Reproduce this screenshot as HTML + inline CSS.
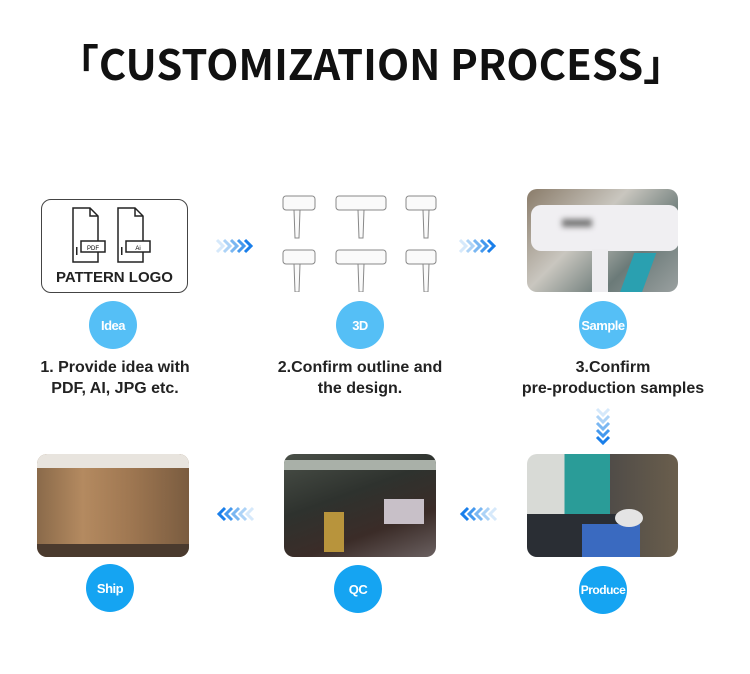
<!DOCTYPE html>
<html><head><meta charset="utf-8"><style>
*{margin:0;padding:0;box-sizing:border-box}
body{width:750px;height:674px;background:#fff;position:relative;overflow:hidden;font-family:"Liberation Sans",sans-serif}
.a{position:absolute}
.circ{width:48px;height:48px;border-radius:50%;color:#fff;font-weight:bold;font-size:13px;display:flex;align-items:center;justify-content:center;letter-spacing:-0.5px}
.lt{background:#55bff6}
.dk{background:#15a4f2}
.cap{font-size:16px;font-weight:bold;color:#222;text-align:center;line-height:21px}
.ph{border-radius:10px;overflow:hidden}
</style></head><body>
<svg class="a" style="left:0;top:0" width="750" height="110">
<text x="57" y="80" textLength="628" lengthAdjust="spacingAndGlyphs" font-family="Noto Sans CJK SC, Liberation Sans, sans-serif" font-weight="bold" font-size="42" fill="#111">「CUSTOMIZATION PROCESS」</text>
</svg>

<div class="a" style="left:41px;top:199px;width:147px;height:94px;border:1.5px solid #444;border-radius:10px"></div>
<svg class="a" style="left:70px;top:205px" width="95" height="60">
<g fill="none" stroke="#222" stroke-width="1.5">
<path d="M3 3h17l8 8v46H3z"/><path d="M20 3v8h8"/><rect x="11" y="36" width="24" height="11" fill="#fff"/>
<path d="M48 3h17l8 8v46H48z"/><path d="M65 3v8h8"/><rect x="56" y="36" width="24" height="11" fill="#fff"/>
</g>
<text x="23" y="45" font-size="6" text-anchor="middle" font-family="Liberation Sans">PDF</text>
<text x="68" y="45" font-size="6" text-anchor="middle" font-family="Liberation Sans">Ai</text>
<rect x="6" y="42" width="1.5" height="8" fill="#222"/><rect x="51" y="42" width="1.5" height="8" fill="#222"/>
</svg>
<div class="a" style="left:41px;top:269px;width:147px;text-align:center;font-size:15px;font-weight:bold;color:#222">PATTERN LOGO</div>

<svg class="a" style="left:278px;top:192px" width="160" height="100">
<g fill="#fafafa" stroke="#888" stroke-width="1">
<rect x="5" y="4" width="32" height="14" rx="3"/><path d="M16 18h6l-1 28h-4z"/>
<rect x="58" y="4" width="50" height="14" rx="3"/><path d="M80 18h6l-1 28h-4z"/>
<rect x="128" y="4" width="30" height="14" rx="3"/><path d="M145 18h6l-1 28h-4z"/>
<rect x="5" y="58" width="32" height="14" rx="3"/><path d="M16 72h6l-1 28h-4z"/>
<rect x="58" y="58" width="50" height="14" rx="3"/><path d="M80 72h6l-1 28h-4z"/>
<rect x="128" y="58" width="30" height="14" rx="3"/><path d="M145 72h6l-1 28h-4z"/>
</g></svg>

<div class="a ph" style="left:527px;top:189px;width:151px;height:103px;background:linear-gradient(135deg,#8a7c6a,#c9c6bf 40%,#6b7a78 70%,#9aa0a0)">
<div class="a" style="left:4px;top:16px;width:148px;height:46px;background:#f0eff2;border-radius:10px"></div>
<div class="a" style="left:65px;top:60px;width:16px;height:44px;background:#eeedf0"></div>
<div class="a" style="left:35px;top:30px;width:30px;height:8px;background:#777;filter:blur(3px)"></div>
<div class="a" style="left:100px;top:64px;width:22px;height:40px;background:#2aa0b0;transform:skewX(-20deg)"></div>
</div>

<svg class="a" style="left:215px;top:238px" width="40" height="16">
<g fill="none" stroke-width="3">
<path d="M2 2l6 6-6 6" stroke="#d6e9fb"/><path d="M9 2l6 6-6 6" stroke="#add3f7"/><path d="M16 2l6 6-6 6" stroke="#7ab7f2"/><path d="M23 2l6 6-6 6" stroke="#4599ee"/><path d="M30 2l6 6-6 6" stroke="#1a7fea"/>
</g></svg>
<svg class="a" style="left:458px;top:238px" width="40" height="16">
<g fill="none" stroke-width="3">
<path d="M2 2l6 6-6 6" stroke="#d6e9fb"/><path d="M9 2l6 6-6 6" stroke="#add3f7"/><path d="M16 2l6 6-6 6" stroke="#7ab7f2"/><path d="M23 2l6 6-6 6" stroke="#4599ee"/><path d="M30 2l6 6-6 6" stroke="#1a7fea"/>
</g></svg>
<svg class="a" style="left:215px;top:506px" width="40" height="16">
<g fill="none" stroke-width="3">
<path d="M38 2l-6 6 6 6" stroke="#d6e9fb"/><path d="M31 2l-6 6 6 6" stroke="#add3f7"/><path d="M24 2l-6 6 6 6" stroke="#7ab7f2"/><path d="M17 2l-6 6 6 6" stroke="#4599ee"/><path d="M10 2l-6 6 6 6" stroke="#1a7fea"/>
</g></svg>
<svg class="a" style="left:458px;top:506px" width="40" height="16">
<g fill="none" stroke-width="3">
<path d="M38 2l-6 6 6 6" stroke="#d6e9fb"/><path d="M31 2l-6 6 6 6" stroke="#add3f7"/><path d="M24 2l-6 6 6 6" stroke="#7ab7f2"/><path d="M17 2l-6 6 6 6" stroke="#4599ee"/><path d="M10 2l-6 6 6 6" stroke="#1a7fea"/>
</g></svg>
<svg class="a" style="left:595px;top:407px" width="16" height="40">
<g fill="none" stroke-width="3">
<path d="M2 2l6 6 6-6" stroke="#d6e9fb"/><path d="M2 9l6 6 6-6" stroke="#add3f7"/><path d="M2 16l6 6 6-6" stroke="#7ab7f2"/><path d="M2 23l6 6 6-6" stroke="#4599ee"/><path d="M2 30l6 6 6-6" stroke="#1a7fea"/>
</g></svg>

<div class="a circ lt" style="left:89px;top:301px">Idea</div>
<div class="a circ lt" style="left:336px;top:301px">3D</div>
<div class="a circ lt" style="left:579px;top:301px">Sample</div>

<div class="a cap" style="left:15px;width:200px;top:357px">1. Provide idea with<br>PDF, AI, JPG etc.</div>
<div class="a cap" style="left:260px;width:200px;top:357px">2.Confirm outline and<br>the design.</div>
<div class="a cap" style="left:498px;width:230px;top:357px">3.Confirm<br>pre-production samples</div>

<div class="a ph" style="left:37px;top:454px;width:152px;height:103px;background:linear-gradient(90deg,#8a6a4a,#b48a60 30%,#a07852 60%,#7a5c40);">
<div class="a" style="left:0;top:0;width:152px;height:14px;background:#e8e4de"></div>
<div class="a" style="left:0;top:90px;width:152px;height:13px;background:#4a3a2e"></div>
</div>
<div class="a ph" style="left:284px;top:454px;width:152px;height:103px;background:linear-gradient(160deg,#4a5048,#2e322e 40%,#3b2c28 70%,#6a6060)">
<div class="a" style="left:0;top:6px;width:152px;height:10px;background:#a9b0a8"></div>
<div class="a" style="left:100px;top:45px;width:40px;height:25px;background:#c8c0c8"></div>
<div class="a" style="left:40px;top:58px;width:20px;height:40px;background:#b8943c"></div>
</div>
<div class="a ph" style="left:527px;top:454px;width:151px;height:103px;background:linear-gradient(90deg,#d8dad6 0 25%,#2a9c98 25% 55%,#504c48 55%,#6a5e4c)">
<div class="a" style="left:0;top:60px;width:100px;height:43px;background:#2a2e34"></div>
<div class="a" style="left:55px;top:70px;width:58px;height:33px;background:#3a6ac0"></div>
<div class="a" style="left:88px;top:55px;width:28px;height:18px;background:#e4e4e4;border-radius:50%"></div>
</div>

<div class="a circ dk" style="left:86px;top:564px">Ship</div>
<div class="a circ dk" style="left:334px;top:565px">QC</div>
<div class="a circ dk" style="left:579px;top:566px;font-size:12px">Produce</div>
</body></html>
